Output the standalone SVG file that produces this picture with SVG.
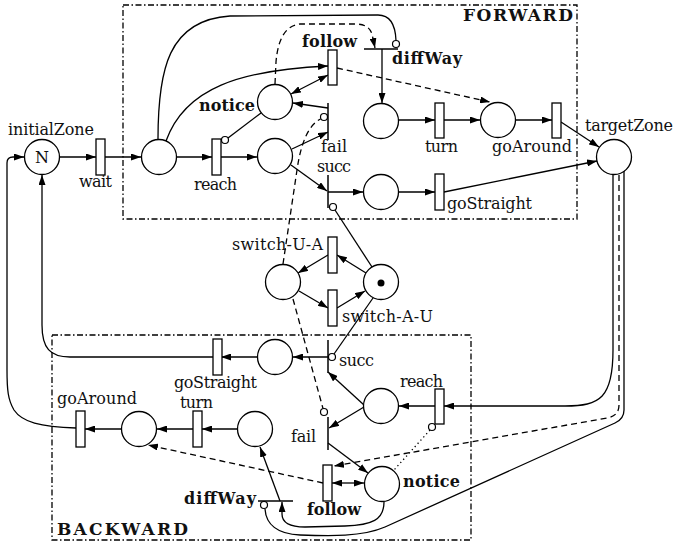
<svg xmlns="http://www.w3.org/2000/svg" width="673" height="546" viewBox="0 0 673 546">
<style>
.box{fill:none;stroke:#000;stroke-width:1.3;stroke-dasharray:6 2.5 1.5 2.5}
.c{fill:none;stroke:#000;stroke-width:1.3}
.d{fill:none;stroke:#000;stroke-width:1.3;stroke-dasharray:6 4}
.o{fill:none;stroke:#000;stroke-width:1.3;stroke-dasharray:1.3 3}
.a{marker-end:url(#arr)}
.aa{marker-start:url(#arr);marker-end:url(#arr)}
.p{fill:#fff;stroke:#000;stroke-width:1.3}
.t{fill:#fff;stroke:#000;stroke-width:1.3}
.bar{stroke:#000;stroke-width:1.5}
.inh{fill:#fff;stroke:#000;stroke-width:1.2}
text{font-family:"DejaVu Serif","Liberation Serif",serif;font-size:16px;fill:#111}
.b{font-weight:bold}
.big{font-size:17px}
</style>
<defs>
<marker id="arr" viewBox="0 0 10 7" refX="10" refY="3.5" markerWidth="10" markerHeight="7" markerUnits="userSpaceOnUse" orient="auto-start-reverse"><path d="M0,0 L10,3.5 L0,7 z" fill="#000"/></marker>
</defs>
<rect width="673" height="546" fill="#fff"/>
<g id="boxes">
<rect class="box" x="123" y="5" width="454" height="214"/>
<text class="b big" x="463" y="21" textLength="110">FORWARD</text>
<rect class="box" x="52" y="335" width="419" height="205"/>
<text class="b big" x="57" y="535" textLength="131">BACKWARD</text>
</g>
<g id="connectors">
<path class="c a" d="M60,157 L96,157"/>
<path class="c a" d="M105,157 L141,157"/>
<path class="c a" d="M177,157 L212,157"/>
<path class="c a" d="M221,157 L257,157"/>
<path class="c" d="M261,113 L228,138"/>
<circle class="inh" cx="225" cy="140" r="3.5"/>
<path class="c a" d="M292,149 L328,132"/>
<path class="c a" d="M291,165 L327,191"/>
<path class="c a" d="M328,108 L293,103"/>
<path class="c a" d="M328,192 L363,192"/>
<path class="c a" d="M399,192 L435,192"/>
<path class="c a" d="M444,192 L597,161"/>
<path class="c a" d="M166,141 C185,88 240,70 328,66"/>
<path class="c aa" d="M291,94 L328,75"/>
<path class="d a" d="M337,68 L490,102"/>
<path class="d a" d="M275,84 L276,62 Q279,26 300,24 L355,24 Q369,24 372,34 L375,48"/>
<path class="c" d="M158,139 C158,70 168,20 230,16 L378,15 Q395,15 396,40.5"/>
<circle class="inh" cx="396" cy="44" r="3.5"/>
<path class="c a" d="M382,49 L382,103"/>
<path class="c a" d="M399,120 L435,120"/>
<path class="c a" d="M444,120 L480,120"/>
<path class="c a" d="M516,120 L552,120"/>
<path class="c a" d="M561,122 L599,147"/>
<path class="c" d="M335,210 L372,267"/>
<circle class="inh" cx="333" cy="207" r="3.5"/>
<path class="c a" d="M366,273 L337,255"/>
<path class="c a" d="M328,255 L298,273"/>
<path class="c a" d="M299,291 L328,308"/>
<path class="c a" d="M337,308 L365,291"/>
<path class="c" d="M373,298 L334,354"/>
<circle class="inh" cx="332" cy="357" r="3.5"/>
<path class="d" d="M283,264 L297,170 Q303,128 320.5,119"/>
<circle class="inh" cx="324" cy="117" r="3.5"/>
<path class="d" d="M293,299 L323,408.5"/>
<circle class="inh" cx="324" cy="412" r="3.5"/>
<path class="c a" d="M613,165 L613,350 C613,398 600,406 565,406 L444,406"/>
<path class="c a" d="M435,406 L399,406"/>
<path class="o" d="M430,430 L394,470"/>
<circle class="inh" cx="432" cy="427" r="3.5"/>
<path class="c a" d="M364,405 L328,372"/>
<path class="c a" d="M364,407 L329,428"/>
<path class="c a" d="M328,357 L293,357"/>
<path class="c a" d="M257,357 L221,357"/>
<path class="c a" d="M213,357 L70,357 C50,357 42,348 42,325 L42,175"/>
<path class="c a" d="M328,443 L368,473"/>
<path class="c aa" d="M332,483 L364,483"/>
<path class="d a" d="M619,165 L619,405 Q619,416 607,418 L334,466"/>
<path class="c" d="M624,165 L624,410 Q624,419 615,423 L385,527 C362,537 330,536 300,535 C277,534 266,524 265,509"/>
<circle class="inh" cx="264" cy="505" r="3.5"/>
<path class="c a" d="M384,502 C384,520 372,525 345,526 L305,527 C289,527 282,522 282,514 L282,502"/>
<path class="c a" d="M280,501 L260,447"/>
<path class="c a" d="M237,429 L202,429"/>
<path class="c a" d="M193,429 L157,429"/>
<path class="c a" d="M121,429 L85,429"/>
<path class="c a" d="M76,428 C40,427 22,422 14,410 C8,400 7,390 7,370 L7,163 Q7,157 13,157 L24,157"/>
<path class="d a" d="M323,483 L148,445"/>
</g>
<g id="initialZone"><circle class="p" cx="42" cy="157" r="17.5"/><text x="42" y="162.5" text-anchor="middle">N</text><text x="8" y="135" textLength="86">initialZone</text></g>
<g id="wait"><rect class="t" x="96" y="139" width="9" height="36"/><text x="79" y="187" textLength="33">wait</text></g>
<g id="fwd-entry"><circle class="p" cx="159" cy="157" r="17.5"/></g>
<g id="fwd-reach"><rect class="t" x="212" y="139" width="9" height="36"/><text x="194" y="190" textLength="43">reach</text></g>
<g id="fwd-reached"><circle class="p" cx="275" cy="156" r="17.5"/></g>
<g id="fwd-notice"><circle class="p" cx="275" cy="102" r="17.5"/><text class="b" x="199" y="111" textLength="56">notice</text></g>
<g id="fwd-follow"><rect class="t" x="328" y="50" width="9" height="35"/><text class="b" x="302" y="47" textLength="55">follow</text></g>
<g id="fwd-diffWay"><path class="bar" d="M364,49 L398,49"/><text class="b" x="392" y="64" textLength="70">diffWay</text></g>
<g id="fwd-fail"><path class="bar" d="M328,103 L328,140"/><text x="321" y="152" textLength="26">fail</text></g>
<g id="fwd-succ"><path class="bar" d="M328,175 L328,208"/><text x="317" y="172" textLength="34">succ</text></g>
<g id="fwd-turnplace"><circle class="p" cx="381" cy="121" r="17.5"/></g>
<g id="fwd-turn"><rect class="t" x="435" y="103" width="9" height="35"/><text x="425" y="152" textLength="33">turn</text></g>
<g id="fwd-aroundplace"><circle class="p" cx="498" cy="120" r="17.5"/></g>
<g id="fwd-goAround"><rect class="t" x="552" y="103" width="9" height="35"/><text x="492" y="152" textLength="80">goAround</text></g>
<g id="fwd-straightplace"><circle class="p" cx="381" cy="192" r="17.5"/></g>
<g id="fwd-goStraight"><rect class="t" x="435" y="174" width="9" height="36"/><text x="447" y="209" textLength="85">goStraight</text></g>
<g id="targetZone"><circle class="p" cx="614" cy="157" r="17.5"/><text x="585" y="131" textLength="88">targetZone</text></g>
<g id="switch-U"><circle class="p" cx="283" cy="282" r="17.5"/></g>
<g id="switch-A"><circle class="p" cx="381" cy="282" r="17.5"/><circle cx="381" cy="283" r="3.5" fill="#000"/></g>
<g id="switch-U-A"><rect class="t" x="328" y="237" width="9" height="36"/><text x="232" y="250" textLength="91">switch-U-A</text></g>
<g id="switch-A-U"><rect class="t" x="328" y="290" width="9" height="36"/><text x="342" y="322" textLength="91">switch-A-U</text></g>
<g id="bwd-reach"><rect class="t" x="435" y="389" width="9" height="35"/><text x="400" y="387" textLength="43">reach</text></g>
<g id="bwd-reached"><circle class="p" cx="381" cy="406" r="17.5"/></g>
<g id="bwd-succ"><path class="bar" d="M328,340 L328,373"/><text x="339" y="366" textLength="35">succ</text></g>
<g id="bwd-fail"><path class="bar" d="M328,417 L328,450"/><text x="291" y="442" textLength="25">fail</text></g>
<g id="bwd-notice"><circle class="p" cx="382" cy="484" r="17.5"/><text class="b" x="403" y="487" textLength="57">notice</text></g>
<g id="bwd-follow"><rect class="t" x="323" y="465" width="9" height="36"/><text class="b" x="307" y="515" textLength="54">follow</text></g>
<g id="bwd-diffWay"><path class="bar" d="M258,501 L293,501"/><text class="b" x="184" y="504" textLength="72">diffWay</text></g>
<g id="bwd-straightplace"><circle class="p" cx="275" cy="357" r="17.5"/></g>
<g id="bwd-goStraight"><rect class="t" x="213" y="339" width="9" height="36"/><text x="174" y="388" textLength="83">goStraight</text></g>
<g id="bwd-turnplace"><circle class="p" cx="255" cy="429" r="17.5"/></g>
<g id="bwd-turn"><rect class="t" x="193" y="411" width="9" height="36"/><text x="180" y="408" textLength="33">turn</text></g>
<g id="bwd-aroundplace"><circle class="p" cx="139" cy="429" r="17.5"/></g>
<g id="bwd-goAround"><rect class="t" x="76" y="411" width="9" height="36"/><text x="57" y="404" textLength="80">goAround</text></g>
</svg>
